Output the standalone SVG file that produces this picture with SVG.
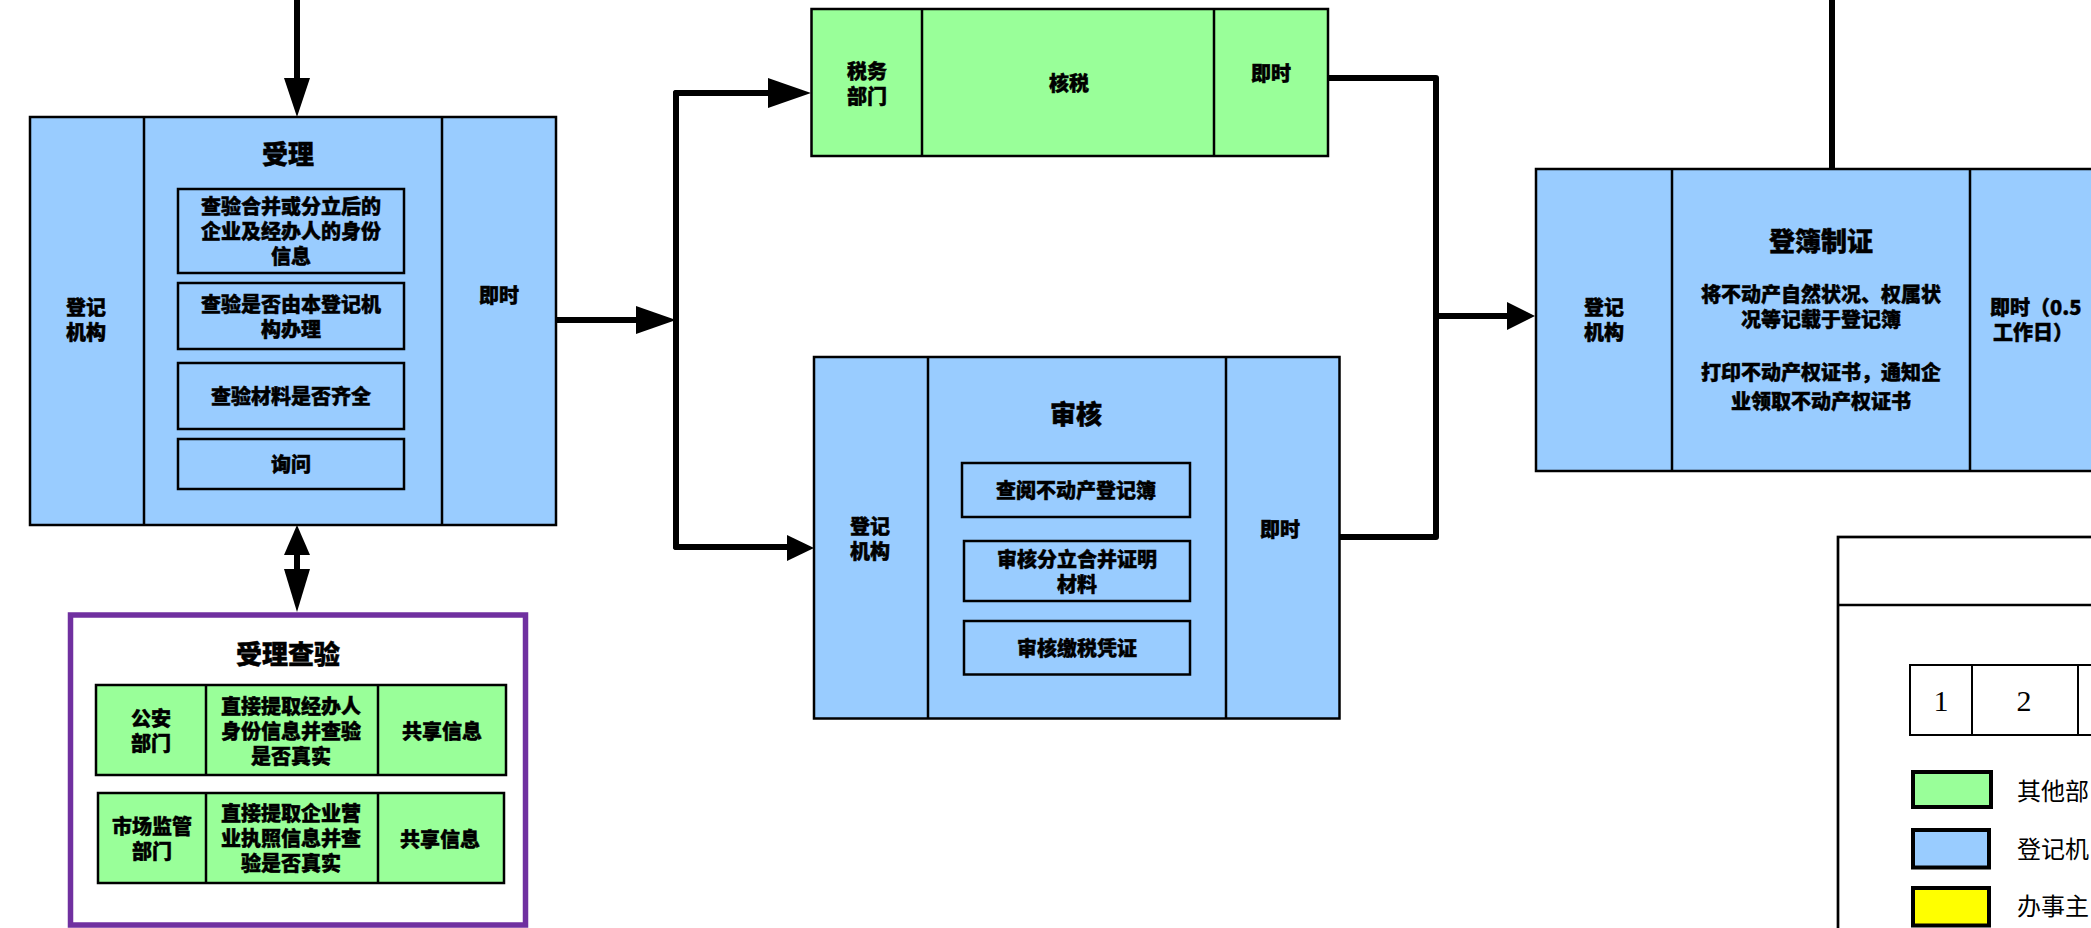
<svg xmlns="http://www.w3.org/2000/svg" width="2091" height="928" viewBox="0 0 2091 928">
<style>
.blue{fill:#99CCFF;stroke:#000;stroke-width:2.5}
.green{fill:#99FF99;stroke:#000;stroke-width:2.5}
.inner{fill:none;stroke:#000;stroke-width:2.5}
.div{stroke:#000;stroke-width:2.5}
.t{font-family:"Noto Sans CJK SC","Liberation Sans",sans-serif;font-weight:900;font-size:20px;fill:#000;stroke:#000;stroke-width:0.45;text-anchor:middle;dominant-baseline:central}
.s{text-anchor:start}
.h{font-size:26px}
.wire{fill:none;stroke:#000;stroke-width:6;stroke-linejoin:round;stroke-linecap:round}
.head{fill:#000;stroke:none}
.lg{font-family:"Noto Sans CJK SC","Liberation Serif",serif;font-size:24px;fill:#000;dominant-baseline:central}
.num{font-family:"Liberation Serif",serif;font-size:30px;fill:#000;text-anchor:middle;dominant-baseline:central}
</style>

<g id="connectors">
  <path class="wire" d="M297,0 V80"/>
  <polygon class="head" points="284,78 310,78 297,117"/>
  <path class="wire" d="M556,320 H640"/>
  <polygon class="head" points="636,306 636,334 676,320"/>
  <path class="wire" d="M676,93 V547"/>
  <path class="wire" d="M676,93 H772"/>
  <polygon class="head" points="768,78 768,108 811,93"/>
  <path class="wire" d="M676,547 H790"/>
  <polygon class="head" points="787,535 787,561 814,548"/>
  <path class="wire" d="M1328,78 H1436 V537 H1340"/>
  <path class="wire" d="M1436,316 H1510"/>
  <polygon class="head" points="1507,302 1507,330 1535,316"/>
  <path class="wire" d="M1832,0 V169"/>
  <path class="wire" d="M297,553 V572"/>
  <polygon class="head" points="284,555 310,555 297,525"/>
  <polygon class="head" points="284,569 310,569 297,612"/>
</g>

<g id="node-accept">
  <rect class="blue" x="30" y="117" width="526" height="408"/>
  <line class="div" x1="144" y1="117" x2="144" y2="525"/>
  <line class="div" x1="442" y1="117" x2="442" y2="525"/>
  <text class="t" x="86" y="306">登记</text>
  <text class="t" x="86" y="331">机构</text>
  <text class="t h" x="288" y="152">受理</text>
  <rect class="inner" x="178" y="189" width="226" height="84"/>
  <text class="t" x="291" y="205">查验合并或分立后的</text>
  <text class="t" x="291" y="230">企业及经办人的身份</text>
  <text class="t" x="291" y="255">信息</text>
  <rect class="inner" x="178" y="283" width="226" height="66"/>
  <text class="t" x="291" y="303">查验是否由本登记机</text>
  <text class="t" x="291" y="328">构办理</text>
  <rect class="inner" x="178" y="363" width="226" height="66"/>
  <text class="t" x="291" y="395">查验材料是否齐全</text>
  <rect class="inner" x="178" y="439" width="226" height="50"/>
  <text class="t" x="291" y="463">询问</text>
  <text class="t" x="499" y="294">即时</text>
</g>

<g id="node-check">
  <rect x="70.5" y="615" width="455" height="310" fill="#fff" stroke="#7030A0" stroke-width="5.5"/>
  <text class="t h" x="288" y="652">受理查验</text>
  <rect class="green" x="96" y="685" width="410" height="90"/>
  <line class="div" x1="206" y1="685" x2="206" y2="775"/>
  <line class="div" x1="378" y1="685" x2="378" y2="775"/>
  <text class="t" x="151" y="717">公安</text>
  <text class="t" x="151" y="742">部门</text>
  <text class="t" x="291" y="705">直接提取经办人</text>
  <text class="t" x="291" y="730">身份信息并查验</text>
  <text class="t" x="291" y="755">是否真实</text>
  <text class="t" x="442" y="730">共享信息</text>
  <rect class="green" x="98" y="793" width="406" height="90"/>
  <line class="div" x1="206" y1="793" x2="206" y2="883"/>
  <line class="div" x1="378" y1="793" x2="378" y2="883"/>
  <text class="t" x="152" y="825">市场监管</text>
  <text class="t" x="152" y="850">部门</text>
  <text class="t" x="291" y="812">直接提取企业营</text>
  <text class="t" x="291" y="837">业执照信息并查</text>
  <text class="t" x="291" y="862">验是否真实</text>
  <text class="t" x="440" y="838">共享信息</text>
</g>

<g id="node-tax">
  <rect class="green" x="811.5" y="9" width="516.5" height="147"/>
  <line class="div" x1="922" y1="9" x2="922" y2="156"/>
  <line class="div" x1="1214" y1="9" x2="1214" y2="156"/>
  <text class="t" x="867" y="70">税务</text>
  <text class="t" x="867" y="95">部门</text>
  <text class="t" x="1069" y="82">核税</text>
  <text class="t" x="1271" y="72">即时</text>
</g>

<g id="node-review">
  <rect class="blue" x="814" y="357" width="525.5" height="361.5"/>
  <line class="div" x1="928" y1="357" x2="928" y2="718.5"/>
  <line class="div" x1="1226" y1="357" x2="1226" y2="718.5"/>
  <text class="t" x="870" y="525.5">登记</text>
  <text class="t" x="870" y="550.5">机构</text>
  <text class="t h" x="1076" y="412">审核</text>
  <rect class="inner" x="962" y="463" width="228" height="54"/>
  <text class="t" x="1076" y="489">查阅不动产登记簿</text>
  <rect class="inner" x="964" y="541" width="226" height="60"/>
  <text class="t" x="1077" y="558.5">审核分立合并证明</text>
  <text class="t" x="1077" y="583.5">材料</text>
  <rect class="inner" x="964" y="621" width="226" height="53.5"/>
  <text class="t" x="1077" y="647">审核缴税凭证</text>
  <text class="t" x="1280" y="528">即时</text>
</g>

<g id="node-register">
  <rect class="blue" x="1536" y="169" width="600" height="302"/>
  <line class="div" x1="1672" y1="169" x2="1672" y2="471"/>
  <line class="div" x1="1970" y1="169" x2="1970" y2="471"/>
  <text class="t" x="1604" y="306">登记</text>
  <text class="t" x="1604" y="331">机构</text>
  <text class="t h" x="1821" y="239">登簿制证</text>
  <text class="t" x="1821" y="293.5">将不动产自然状况、权属状</text>
  <text class="t" x="1821" y="318.5">况等记载于登记簿</text>
  <text class="t" x="1821" y="371">打印不动产权证书，通知企</text>
  <text class="t" x="1821" y="400">业领取不动产权证书</text>
  <text class="t s" x="1990" y="306.5">即时（0.5</text>
  <text class="t s" x="1993" y="331.5">工作日）</text>
</g>

<g id="legend">
  <rect x="1838" y="537" width="400" height="500" fill="#fff" stroke="#000" stroke-width="2.7"/>
  <line x1="1838" y1="605" x2="2100" y2="605" stroke="#000" stroke-width="2.7"/>
  <rect x="1910" y="665" width="300" height="70" fill="#fff" stroke="#000" stroke-width="2"/>
  <line x1="1972" y1="665" x2="1972" y2="735" stroke="#000" stroke-width="2"/>
  <line x1="2078" y1="665" x2="2078" y2="735" stroke="#000" stroke-width="2"/>
  <text class="num" x="1941" y="700">1</text>
  <text class="num" x="2024" y="700">2</text>
  <rect x="1913" y="772" width="78" height="35" fill="#99FF99" stroke="#000" stroke-width="4"/>
  <rect x="1913" y="830" width="76" height="37.5" fill="#99CCFF" stroke="#000" stroke-width="4"/>
  <rect x="1913" y="888" width="76" height="37.5" fill="#FFFF00" stroke="#000" stroke-width="4"/>
  <text class="lg" x="2017" y="789">其他部</text>
  <text class="lg" x="2017" y="847">登记机</text>
  <text class="lg" x="2017" y="904">办事主</text>
</g>
</svg>
